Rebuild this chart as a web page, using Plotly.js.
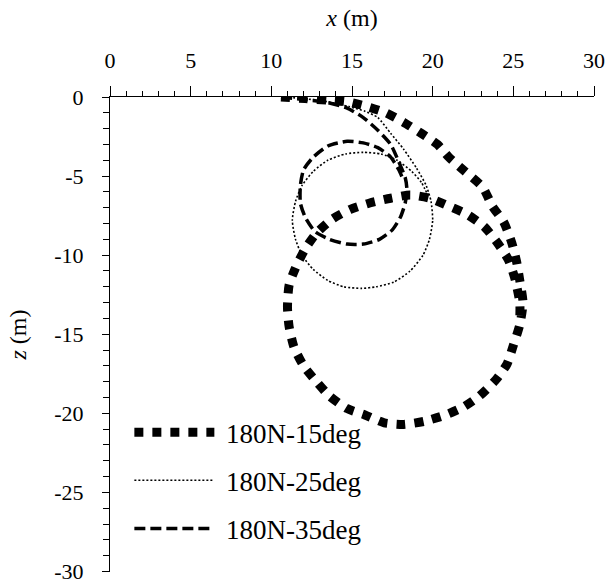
<!DOCTYPE html>
<html>
<head>
<meta charset="utf-8">
<script src="https://cdn.plot.ly/plotly-3.0.1.min.js"></script>
<style>
html,body{margin:0;padding:0;background:#fff;}
#chart{width:608px;height:584px;}
#chart svg text{font-family:"Liberation Serif" !important;}
</style>
</head>
<body>
<div id="chart"></div>
<script>
// Series names
var seriesNames = ["180N-15deg", "180N-25deg", "180N-35deg"];

// 180N-15deg trajectory (x in m, z in m)
var x15 = [10.6, 12.1, 13.5, 14.7, 15.9, 17.1, 18.2, 19.3, 20.3, 21.0, 22.0, 23.1, 23.7, 24.4, 24.9, 25.2, 25.4, 25.6, 25.4, 25.0, 24.6, 23.9, 22.9, 21.9, 20.8, 19.5, 18.2, 17.0, 15.8, 14.7, 13.6, 12.8, 12.0, 11.4, 11.1, 11.0, 11.1, 11.5, 12.1, 12.8, 13.8, 14.9, 16.1, 17.4, 18.6, 19.8, 21.0, 22.1, 23.2, 24.0, 24.7, 25.1, 25.4, 25.4];
var z15 = [0, -0.1, -0.2, -0.3, -0.6, -1.0, -1.6, -2.3, -3.0, -3.8, -4.7, -5.7, -6.9, -7.9, -9.2, -10.4, -11.6, -13.0, -14.4, -15.7, -16.9, -17.9, -18.9, -19.6, -20.1, -20.5, -20.7, -20.6, -20.1, -19.7, -18.9, -18.0, -17.0, -15.8, -14.5, -13.3, -11.9, -10.8, -9.6, -8.6, -7.7, -7.1, -6.7, -6.4, -6.2, -6.4, -6.9, -7.4, -8.2, -9.2, -10.3, -11.5, -13.0, -14.0];

// 180N-25deg trajectory
var x25 = [10.6, 12.0, 13.5, 14.8, 15.8, 16.6, 17.4, 18.2, 19.0, 19.6, 19.9, 20.0, 19.8, 19.4, 18.6, 17.6, 16.5, 15.6, 14.5, 13.5, 12.6, 11.9, 11.5, 11.3, 11.5, 11.9, 12.6, 13.5, 14.6, 15.7, 16.8, 17.8, 18.7, 19.3, 19.7];
var z25 = [0, -0.1, -0.3, -0.6, -0.9, -1.3, -2.3, -3.3, -4.5, -5.6, -6.6, -7.8, -9.0, -10.0, -11.0, -11.7, -12.0, -12.1, -12.0, -11.6, -10.9, -10.0, -9.0, -7.8, -6.6, -5.6, -4.7, -4.0, -3.6, -3.5, -3.6, -4.0, -4.7, -5.4, -6.2];

// 180N-35deg trajectory
var x35 = [10.6, 12.0, 13.5, 14.7, 15.7, 16.6, 17.4, 17.9, 18.3, 18.4, 18.3, 18.0, 17.5, 16.7, 15.7, 14.7, 13.6, 12.7, 12.1, 11.8, 11.8, 12.0, 12.6, 13.5, 14.7, 15.7, 16.6, 17.4, 17.9, 18.2];
var z35 = [0, -0.15, -0.35, -0.7, -1.3, -2.1, -3.0, -4.1, -5.1, -5.8, -6.7, -7.6, -8.4, -9.0, -9.3, -9.3, -9.0, -8.5, -7.6, -6.7, -5.6, -4.6, -3.8, -3.1, -2.8, -2.9, -3.2, -3.8, -4.6, -5.3];

// Axis ticks
var xTicks = [0, 5, 10, 15, 20, 25, 30];
var zTicks = [0, -5, -10, -15, -20, -25, -30];

var FONT = "Liberation Serif";

var traces = [
  {x: x15, y: z15, name: " " + seriesNames[0], mode: "lines", legendgroup: "a",
   line: {color: "#000", width: 9, dash: "9px,9px", shape: "spline", smoothing: 0.6}},
  {x: x25, y: z25, name: " " + seriesNames[1], mode: "lines", legendgroup: "b",
   line: {color: "#000", width: 1.6, dash: "2px,2px", shape: "spline", smoothing: 0.6}},
  {x: x35, y: z35, name: " " + seriesNames[2], mode: "lines", legendgroup: "c",
   line: {color: "#000", width: 3.5, dash: "11px,5px", shape: "spline", smoothing: 0.6}}
];

var layout = {
  width: 608, height: 584,
  margin: {l: 110, r: 14, t: 97, b: 12},
  paper_bgcolor: "#fff", plot_bgcolor: "#fff",
  font: {family: FONT, color: "#000", size: 22},
  showlegend: true,
  legend: {x: 0.04, y: 0.345, xanchor: "left", yanchor: "top",
           bgcolor: "rgba(0,0,0,0)", font: {size: 27, color: "#000"},
           itemwidth: 80, tracegroupgap: 10, traceorder: "grouped"},
  xaxis: {
    side: "top", range: [0, 30], tickvals: xTicks, ticktext: xTicks.map(String),
    showgrid: false, zeroline: false, showline: true, linecolor: "#000", linewidth: 1,
    ticks: "outside", ticklen: 10, tickwidth: 1, tickcolor: "#000",
    minor: {dtick: 1, ticks: "outside", ticklen: 5, tickwidth: 1, tickcolor: "#000", showgrid: false},
    tickfont: {size: 22, color: "#000"},
    ticklabelstandoff: 9, ticklabeloverflow: "allow",
    title: {text: "<i>x</i> (m)", font: {size: 24, color: "#000"}, standoff: 14},
    fixedrange: true
  },
  yaxis: {
    range: [-30.03, 0], tickvals: zTicks, ticktext: zTicks.map(String),
    showgrid: false, zeroline: false, showline: true, linecolor: "#000", linewidth: 1,
    ticks: "outside", ticklen: 7, tickwidth: 1, tickcolor: "#000",
    minor: {dtick: 1, ticks: "outside", ticklen: 6, tickwidth: 1, tickcolor: "#000", showgrid: false},
    tickfont: {size: 22, color: "#000"},
    ticklabelstandoff: 14, ticklabeloverflow: "allow",
    title: {text: "<i>z</i> (m)", font: {size: 24, color: "#000"}, standoff: 20},
    fixedrange: true
  }
};

Plotly.newPlot("chart", traces, layout, {displayModeBar: false});
</script>
</body>
</html>
